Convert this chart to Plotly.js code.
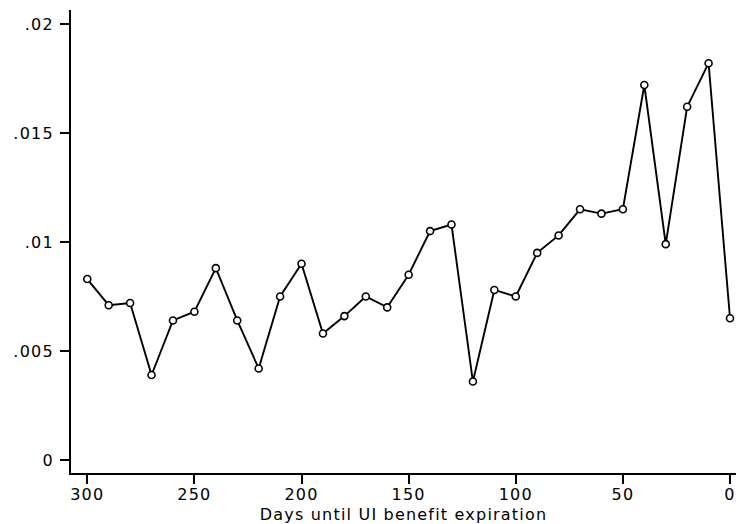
<!DOCTYPE html>
<html>
<head>
<meta charset="utf-8">
<script src="https://cdn.plot.ly/plotly-3.0.1.min.js"></script>
<style>
html, body { margin: 0; padding: 0; background: #fff; }
#chart { width: 736px; height: 524px; }
#chart .main-svg text { letter-spacing: 1.2px; }
</style>
</head>
<body>
<div id="chart"></div>
<script>
// Days until UI benefit expiration
const days = [300, 290, 280, 270, 260, 250, 240, 230, 220, 210,
              200, 190, 180, 170, 160, 150, 140, 130, 120, 110,
              100, 90, 80, 70, 60, 50, 40, 30, 20, 10, 0];
// Hazard values
const hazard = [0.0083, 0.0071, 0.0072, 0.0039, 0.0064, 0.0068, 0.0088, 0.0064, 0.0042, 0.0075,
                0.0090, 0.0058, 0.0066, 0.0075, 0.0070, 0.0085, 0.0105, 0.0108, 0.0036, 0.0078,
                0.0075, 0.0095, 0.0103, 0.0115, 0.0113, 0.0115, 0.0172, 0.0099, 0.0162, 0.0182, 0.0065];
const xTickVals = [300, 250, 200, 150, 100, 50, 0];
const yTickVals = [0, 0.005, 0.01, 0.015, 0.02];
const yTickText = ['0', '.005', '.01', '.015', '.02'];
const xTitle = 'Days until UI benefit expiration';

const fontFamily = '"DejaVu Sans", "Liberation Sans", Arial, sans-serif';

const trace = {
  x: days,
  y: hazard,
  type: 'scatter',
  mode: 'lines+markers',
  line: { color: '#000', width: 1.9 },
  marker: { symbol: 'circle', size: 7, color: '#fff', line: { color: '#000', width: 1.6 } },
  cliponaxis: false,
  hoverinfo: 'x+y'
};

const layout = {
  width: 736,
  height: 524,
  margin: { l: 71, r: 0, t: 10, b: 51 },
  paper_bgcolor: '#fff',
  plot_bgcolor: '#fff',
  showlegend: false,
  font: { family: fontFamily, size: 16, color: '#000' },
  xaxis: {
    range: [307.6, -2.8],
    tickmode: 'array',
    tickvals: xTickVals,
    ticktext: xTickVals.map(String),
    ticks: 'outside',
    ticklen: 9,
    tickwidth: 2,
    tickcolor: '#000',
    ticklabelstandoff: -3,
    showline: true,
    linecolor: '#000',
    linewidth: 2,
    showgrid: false,
    zeroline: false,
    tickfont: { family: fontFamily, size: 16, color: '#000' },
    title: { text: xTitle, font: { family: fontFamily, size: 16, color: '#000' }, standoff: 6 },
    automargin: false
  },
  yaxis: {
    range: [-0.000596, 0.02064],
    tickmode: 'array',
    tickvals: yTickVals,
    ticktext: yTickText,
    ticks: 'outside',
    ticklen: 9,
    tickwidth: 2,
    tickcolor: '#000',
    ticklabelstandoff: 3,
    showline: true,
    linecolor: '#000',
    linewidth: 2,
    showgrid: false,
    zeroline: false,
    tickfont: { family: fontFamily, size: 16, color: '#000' },
    automargin: false
  }
};

Plotly.newPlot('chart', [trace], layout, { displayModeBar: false, staticPlot: true });
</script>
</body>
</html>
